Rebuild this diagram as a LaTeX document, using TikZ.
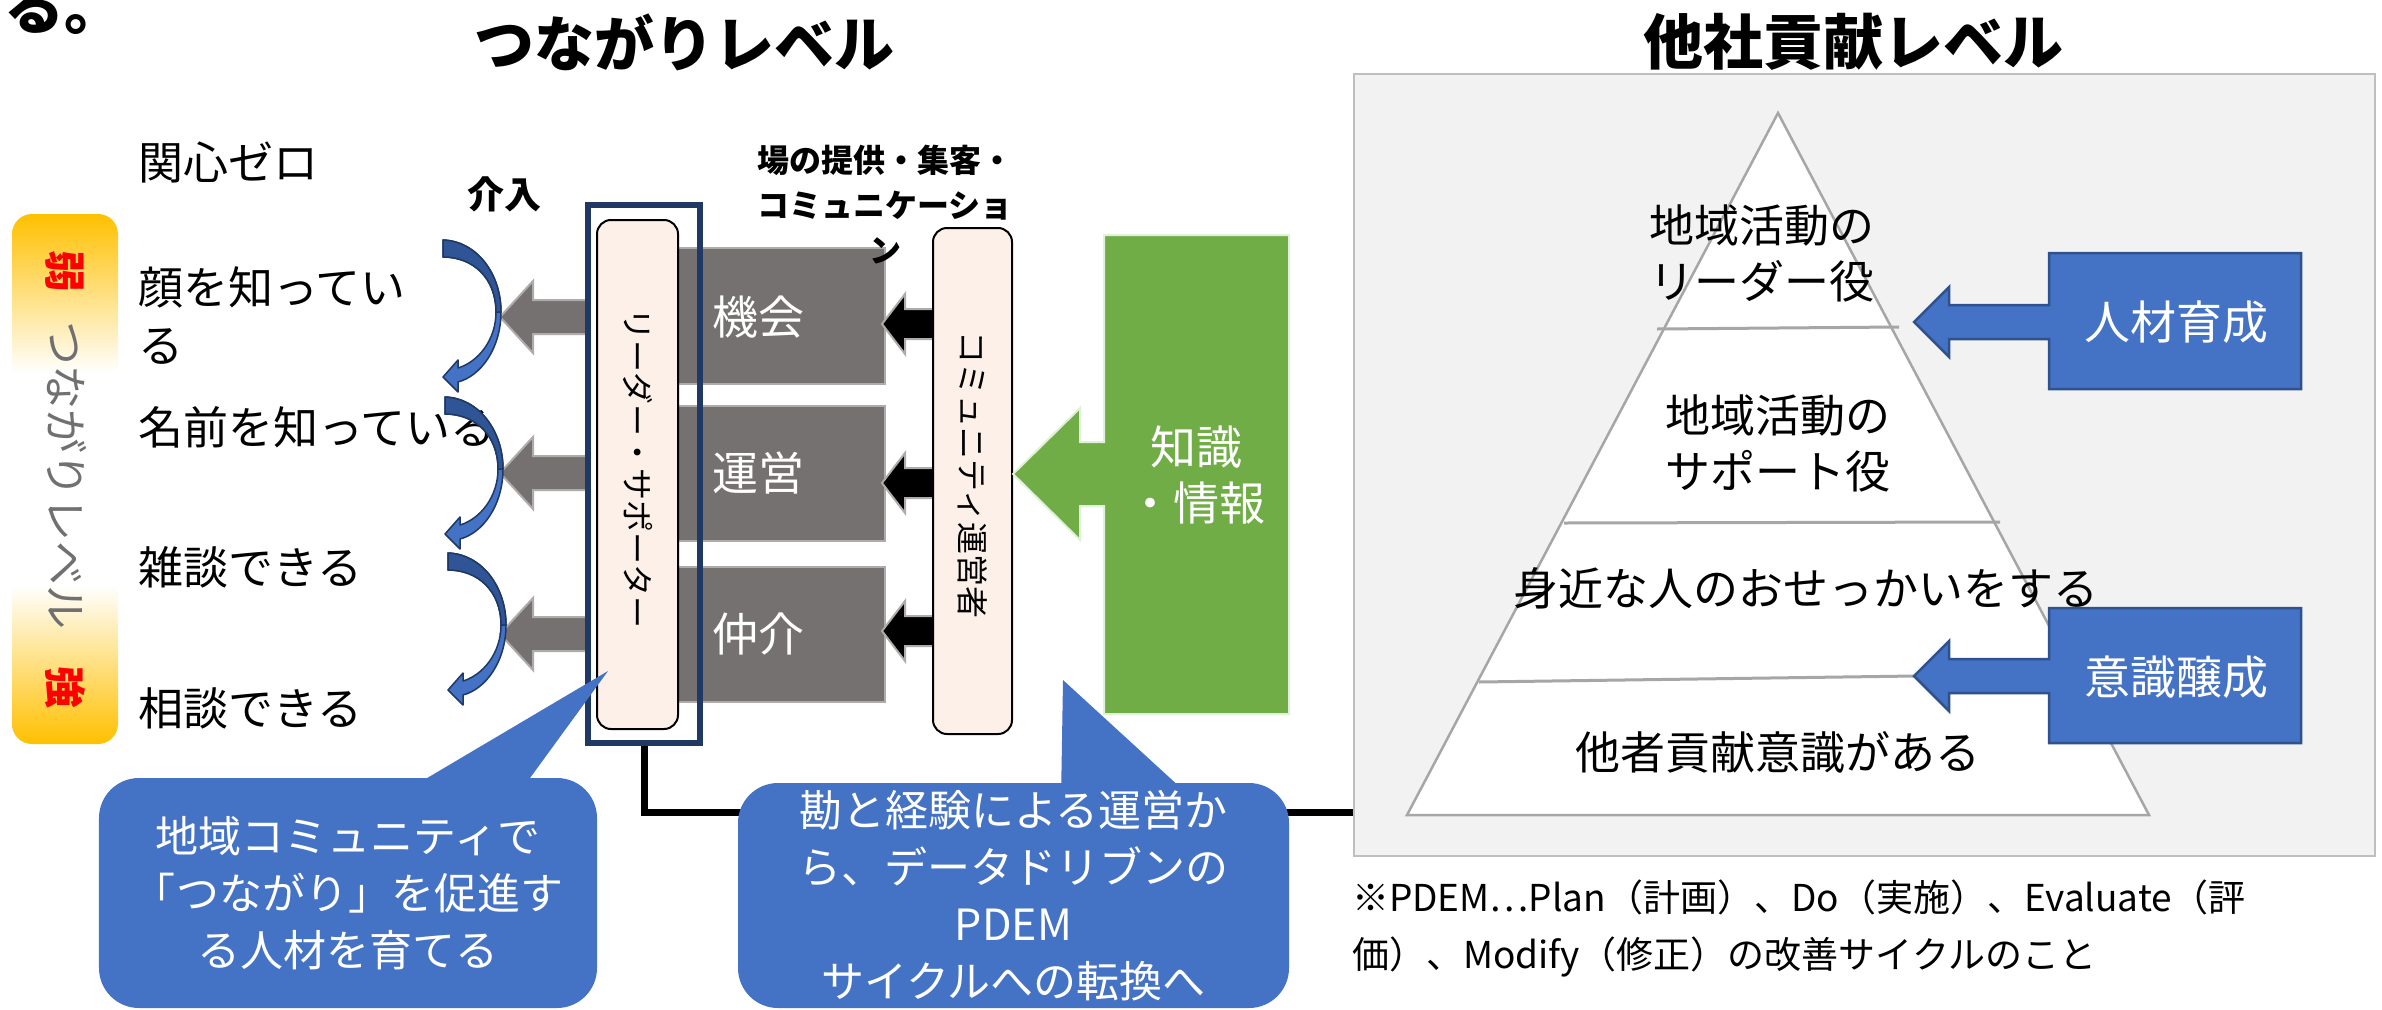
\documentclass[tikz,border=0pt]{standalone}
\usepackage{fontspec}
\newfontfamily\jp{Noto Sans CJK JP}
\usetikzlibrary{calc}
\definecolor{bblue}{HTML}{4472C4}
\definecolor{bdark}{HTML}{2F528F}
\definecolor{bmid}{HTML}{2F5597}
\definecolor{navy}{HTML}{203864}
\definecolor{peach}{HTML}{FCF0E8}
\definecolor{gfill}{HTML}{767171}
\definecolor{gedge}{HTML}{AFABAB}
\definecolor{ggreen}{HTML}{70AD47}
\definecolor{ggreenedge}{HTML}{E2EFDA}
\definecolor{orng}{HTML}{FFC000}
\definecolor{panelbg}{HTML}{F2F2F2}
\definecolor{paneledge}{HTML}{BFBFBF}
\definecolor{pyrline}{HTML}{A6A6A6}
\definecolor{txtgray}{HTML}{707070}
\pgfdeclareverticalshading{orangefade}{100bp}{color(0bp)=(orng); color(25bp)=(orng); color(40bp)=(white); color(60bp)=(white); color(75bp)=(orng); color(100bp)=(orng)}
\tikzset{
  base/.style={inner sep=0pt, outer sep=0pt},
  ttl/.style={base, font=\jp\bfseries\fontsize{60bp}{66bp}\selectfont},
  body/.style={base, align=left, font=\jp\fontsize{45bp}{58bp}\selectfont},
  pyr/.style={base, align=center, font=\jp\fontsize{45bp}{56bp}\selectfont},
  wtxt/.style={base, align=center, text=white, font=\jp\fontsize{46bp}{56bp}\selectfont},
  sbold/.style={base, align=center, font=\jp\bfseries\fontsize{32bp}{45bp}\selectfont},
  vtxt/.style={base, rotate=-90, font=\jp\fontsize{32bp}{40bp}\selectfont},
  bubble/.style={fill=bblue, rounded corners=40bp, text=white, align=center, inner sep=0pt, font=\jp\fontsize{43bp}{57bp}\selectfont},
  note/.style={base, align=left, font=\jp\fontsize{37bp}{57bp}\selectfont},
  peachbox/.style={draw=black, line width=2bp, fill=peach, rounded corners=14bp, inner sep=0pt},
  graysh/.style={fill=gfill, draw=gedge, line width=2bp},
  blackarr/.style={fill=black, draw=gedge, line width=2bp},
  bluesh/.style={fill=bblue, draw=bdark, line width=2.5bp},
  curv/.style={fill=bblue, draw=navy, line width=1.5bp, line join=round},
  curvtop/.style={fill=bmid, draw=navy, line width=1.5bp, line join=round},
}
\begin{document}
\begin{tikzpicture}[x=1bp,y=-1bp]
\useasboundingbox (0,0) rectangle (2382,1009);

% titles
\node[ttl, anchor=base west] (topru) at (4,29) {る。};
\node[ttl] (t1) at (684,42) {つながりレベル};
\node[ttl] (t2) at (1853,42) {他社貢献レベル};

% orange level bar
\shade[shading=orangefade, rounded corners=20bp] (12,214) rectangle (118,744);
\node[base, rotate=-90, text=red, font=\jp\bfseries\fontsize{42bp}{42bp}\selectfont] (weak) at (65,271) {弱};
\node[base, rotate=-90, text=txtgray, font=\jp\fontsize{44bp}{44bp}\selectfont] (tlv) at (67,475) {つながりレベル};
\node[base, rotate=-90, text=red, font=\jp\bfseries\fontsize{42bp}{42bp}\selectfont] (strong) at (65,687) {強};

% level texts
\node[body, anchor=west] (l0) at (138,163) {関心ゼロ};
\node[body, anchor=west] (l1) at (138,316) {顔を知ってい\\る};
\node[body, anchor=west] (l2) at (138,427) {名前を知っている};
\node[body, anchor=west] (l3) at (138,567) {雑談できる};
\node[body, anchor=west] (l4) at (138,708) {相談できる};

% gray callouts
\foreach \t/\b/\c/\lab/\nm in {248/384/317/機会/kikai, 406/541/473/運営/unei, 567/702/634/仲介/chukai}{
  \path[graysh] (500,\c) -- (533,\c-36) -- (533,\c-17) -- (589,\c-17) -- (589,\c+17) -- (533,\c+17) -- (533,\c+36) -- cycle;
  \path[graysh] (640,\t) rectangle (885,\b);
  \node[wtxt] (\nm) at (758,\c) {\lab};
}

% curved arrows
\foreach \ox/\oy in {443/240, 445/397, 448/553}{
  \begin{scope}[shift={(\ox,\oy)}]
    \path[curv] (0,0) .. controls (33,1) and (58,33) .. (58,72) .. controls (58,108) and (38,136) .. (15,142) -- (15,152) -- (0,137) -- (15,120) -- (15,128) .. controls (35,122) and (53,100) .. (53,72) .. controls (53,38) and (30,17) .. (0,17) -- cycle;
    \path[curvtop] (0,0) .. controls (33,1) and (58,33) .. (58,72) -- (53,72) .. controls (53,38) and (30,17) .. (0,17) -- cycle;
  \end{scope}
}

\node[base, font=\jp\bfseries\fontsize{37bp}{37bp}\selectfont] (kainyu) at (504,194) {介入};

% leader box
\node[draw=navy, line width=6bp, minimum width=112bp, minimum height=538bp, inner sep=0pt] (ldr) at (644,474) {};
\node[peachbox, minimum width=81bp, minimum height=509bp] (ldin) at (637.5,474.5) {};
\node[vtxt] (ldtxt) at (638,468) {リーダー・サポーター};

% black arrows
\foreach \c in {324,483,631}{
  \path[blackarr] (882,\c) -- (905,\c-30) -- (905,\c-15) -- (934,\c-15) -- (934,\c+15) -- (905,\c+15) -- (905,\c+30) -- cycle;
}

% community manager box
\node[peachbox, minimum width=79bp, minimum height=506bp] (comm) at (972.5,481) {};
\node[vtxt] (commtxt) at (973,475) {コミュニティ運営者};

\node[sbold] (place) at (885,205) {場の提供・集客・\\コミュニケーショ\\ン};

% green callout
\path[fill=ggreen, draw=ggreenedge, line width=2bp] (1013,474) -- (1080,408) -- (1080,442) -- (1104,442) -- (1104,235) -- (1289,235) -- (1289,714) -- (1104,714) -- (1104,506) -- (1080,506) -- (1080,540) -- cycle;
\node[wtxt] (know) at (1196,475) {知識\\・情報};

% connector line
\coordinate (lineEnd) at (1354,812);
\draw[line width=7bp] (ldr.south) |- (lineEnd);

% bubbles
\fill[bblue] (390,800) -- (608,671) -- (514,800) -- cycle;
\node[bubble, minimum width=498bp, minimum height=230bp] (b1) at (348,893) {地域コミュニティで\\「つながり」を促進す\\る人材を育てる};
\fill[bblue] (1061,800) -- (1063,680) -- (1194,800) -- cycle;
\node[bubble, minimum width=551bp, minimum height=225bp] (b2) at (1013.5,895.5) {勘と経験による運営か\\ら、データドリブンの\\PDEM\\サイクルへの転換へ};

% right panel
\node[fill=panelbg, draw=paneledge, line width=2.5bp, minimum width=1021bp, minimum height=782bp, inner sep=0pt] (panel) at (1864.5,465) {};
\path[fill=white, draw=pyrline, line width=2.5bp] (1778,113) -- (2149,815) -- (1407,815) -- cycle;
\draw[pyrline, line width=3bp] (1657,329) -- (1899,327);
\draw[pyrline, line width=3bp] (1564,523) -- (2000,522);
\draw[pyrline, line width=3bp] (1479,682) -- (2060,674);
\node[pyr] (p1) at (1762,253) {地域活動の\\リーダー役};
\node[pyr] (p2) at (1778,443) {地域活動の\\サポート役};
\node[pyr] (p3) at (1806,588) {身近な人のおせっかいをする};
\node[pyr] (p4) at (1778,752) {他者貢献意識がある};

% blue callouts
\path[bluesh] (1914,322) -- (1949,287) -- (1949,305) -- (2049,305) -- (2049,253) -- (2301,253) -- (2301,389) -- (2049,389) -- (2049,339) -- (1949,339) -- (1949,357) -- cycle;
\node[wtxt] (jinzai) at (2176,322) {人材育成};
\path[bluesh] (1914,676) -- (1949,641) -- (1949,659) -- (2049,659) -- (2049,608) -- (2301,608) -- (2301,743) -- (2049,743) -- (2049,693) -- (1949,693) -- (1949,711) -- cycle;
\node[wtxt] (ishiki) at (2176,677) {意識醸成};

% footnote
\node[note, anchor=west] (fn) at (1352,928) {※PDEM…Plan（計画）、Do（実施）、Evaluate（評\\価）、Modify（修正）の改善サイクルのこと};
\end{tikzpicture}
\end{document}
